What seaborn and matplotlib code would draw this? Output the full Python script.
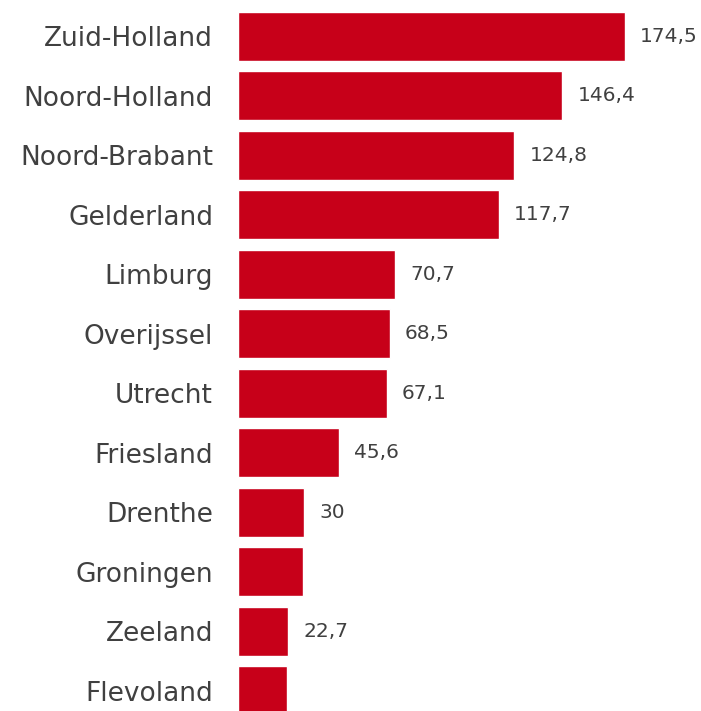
import matplotlib
matplotlib.use('Agg')
import matplotlib.pyplot as plt
import seaborn as sns
import pandas as pd

provinces = ['Zuid-Holland', 'Noord-Holland', 'Noord-Brabant', 'Gelderland', 'Limburg',
             'Overijssel', 'Utrecht', 'Friesland', 'Drenthe', 'Groningen', 'Zeeland', 'Flevoland']
values = [174.5, 146.4, 124.8, 117.7, 70.7, 68.5, 67.1, 45.6, 30.0, 29.3, 22.7, 22.0]
labels = ['174,5', '146,4', '124,8', '117,7', '70,7', '68,5', '67,1', '45,6', '30', '', '22,7', '']

df = pd.DataFrame({'Provincie': provinces, 'Waarde': values})

sns.set_style('white')
plt.rcParams['font.family'] = ['DejaVu Sans']

fig = plt.figure(figsize=(7.01, 7.11), dpi=100)
ax = fig.add_axes([238 / 701, 0, 463 / 701, 1])

sns.barplot(data=df, x='Waarde', y='Provincie', color='#C70019', saturation=1,
            width=0.82, orient='h', ax=ax)

for i, (v, lab) in enumerate(zip(values, labels)):
    if lab:
        ax.annotate(lab, (v, i), xytext=(11, 0), textcoords='offset points',
                    va='center', ha='left', fontsize=14.5, color='#404040')

ax.set_xlim(0, 209)
ax.set_ylim(11.34, -0.61)
ax.set_xlabel('')
ax.set_ylabel('')
ax.set_xticks([])
ax.tick_params(axis='y', length=0, pad=18, labelsize=19, labelcolor='#404040')
sns.despine(ax=ax, left=True, bottom=True)

fig.savefig('out.png', dpi=100)
